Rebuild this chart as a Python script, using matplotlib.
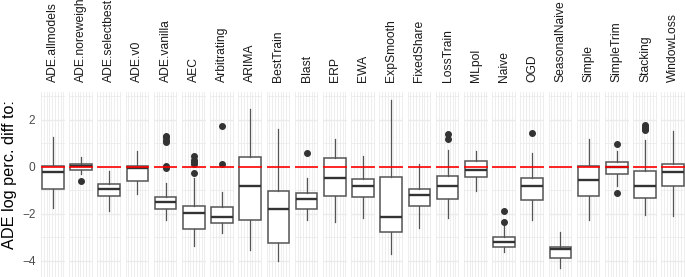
import numpy as np
import matplotlib
matplotlib.use("Agg")
import matplotlib.pyplot as plt

plt.rcParams['font.family'] = ['Liberation Sans', 'DejaVu Sans']

models = ['ADE.allmodels', 'ADE.noreweight', 'ADE.selectbest', 'ADE.v0', 'ADE.vanilla',
          'AEC', 'Arbitrating', 'ARIMA', 'BestTrain', 'Blast', 'ERP', 'EWA', 'ExpSmooth',
          'FixedShare', 'LossTrain', 'MLpol', 'Naive', 'OGD', 'SeasonalNaive', 'Simple',
          'SimpleTrim', 'Stacking', 'WindowLoss']

# boxplot stats (log perc. diff)
whis_lo = [-1.76, -0.31, -1.88, -1.17, -2.25, -3.37, -2.83, -3.53, -4.01, -2.26, -2.37, -2.19,
           -3.72, -2.59, -2.19, -1.02, -3.64, -2.27, -4.32, -2.29, -0.80, -2.05, -2.10]
q1 = [-0.95, -0.14, -1.25, -0.60, -1.79, -2.64, -2.40, -2.27, -3.25, -1.78, -1.24, -1.28,
      -2.79, -1.69, -1.36, -0.44, -3.43, -1.41, -3.87, -1.24, -0.31, -1.31, -0.80]
med = [-0.24, 0.02, -0.94, -0.06, -1.51, -1.99, -2.13, -0.80, -1.79, -1.39, -0.48, -0.81,
       -2.13, -1.19, -0.80, -0.13, -3.21, -0.84, -3.51, -0.55, -0.01, -0.81, -0.23]
q3 = [0.02, 0.11, -0.72, 0.03, -1.27, -1.69, -1.72, 0.40, -1.05, -1.12, 0.36, -0.51,
      -0.44, -0.94, -0.40, 0.23, -3.01, -0.48, -3.41, 0.03, 0.20, -0.16, 0.14]
whis_hi = [1.25, 0.41, -0.17, 0.67, -0.71, -0.46, -1.08, 2.47, 1.61, -0.46, 1.19, 0.44,
           2.86, 0.11, 0.72, 0.68, -2.47, 0.58, -2.77, 1.19, 0.68, 1.15, 1.54]
outliers = [[], [-0.60], [], [], [1.33, 1.25, 1.15, 1.05, 0.05, -0.05],
            [0.48, 0.30, 0.20, 0.12, -0.27], [1.76, 0.13], [], [], [0.58], [], [],
            [], [], [1.39, 1.19], [], [-1.88, -2.35], [1.46], [], [],
            [0.98, -1.11], [1.78, 1.70, 1.62, 1.55], []]

W, H = 685, 277
fig, axes = plt.subplots(1, len(models), figsize=(W / 100, H / 100), dpi=100, sharey=True)
fig.subplots_adjust(left=41 / W, right=1.0, top=1 - 92 / H, bottom=0.0, wspace=0.2)

for i, ax in enumerate(axes):
    stats = [dict(whislo=whis_lo[i], q1=q1[i], med=med[i], q3=q3[i],
                  whishi=whis_hi[i], fliers=outliers[i])]
    ax.bxp(stats, positions=[1], widths=0.92, showcaps=False, patch_artist=True,
           boxprops=dict(facecolor='white', edgecolor='#555555', linewidth=1.1),
           medianprops=dict(color='#333333', linewidth=1.7),
           whiskerprops=dict(color='#555555', linewidth=0.9),
           flierprops=dict(marker='o', markerfacecolor='#333333', markeredgecolor='#333333',
                           markersize=4.0, linestyle='none'),
           zorder=3)
    ax.axhline(0, color='#ff0000', linewidth=1.2, zorder=5)
    ax.set_xlim(0.5, 1.5)
    ax.set_ylim(-4.7, 3.19)
    ax.set_yticks([-4, -2, 0, 2])
    ax.set_yticks([-3, -1, 1, 3], minor=True)
    ax.set_xticks([])
    for xv in np.linspace(0.5, 1.45, 9):
        ax.axvline(xv, color='#ebebeb', linewidth=0.6, zorder=0)
    ax.grid(axis='y', which='major', color='#ebebeb', linewidth=1.0, zorder=0)
    ax.grid(axis='y', which='minor', color='#ebebeb', linewidth=0.6, zorder=0)
    ax.set_axisbelow(True)
    for s in ax.spines.values():
        s.set_visible(False)
    ax.tick_params(axis='both', which='both', length=0)
    ax.tick_params(axis='y', labelsize=8.6, labelcolor='#4d4d4d', pad=4)
    ax.annotate(models[i], xy=(0.5, 1.0), xycoords='axes fraction', xytext=(0, 7),
                textcoords='offset points', rotation=90, ha='center', va='bottom',
                fontsize=8.7, color='#1a1a1a', annotation_clip=False)

fig.text(10 / W, 1 - 175 / H, 'ADE log perc. diff to:', rotation=90, ha='center',
         va='center', fontsize=11.7, color='black')

fig.savefig('out.png', dpi=100)
